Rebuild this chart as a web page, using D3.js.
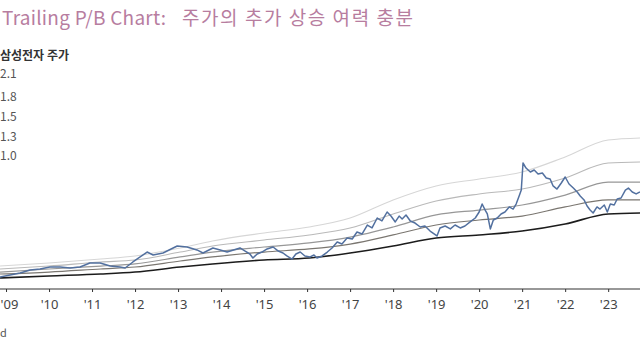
<!DOCTYPE html>
<html>
<head>
<meta charset="utf-8">
<script src="https://cdn.jsdelivr.net/npm/d3@7/dist/d3.min.js"></script>
<style>
  html, body { margin: 0; padding: 0; background: #fff; }
  svg { display: block; font-family: "Noto Sans CJK KR", "Noto Sans", sans-serif; }
</style>
</head>
<body>
<svg id="chart" width="640" height="360"></svg>
<script>
// ---- data (price in KRW thousand, time in decimal years) ----
const title = "Trailing P/B Chart:";
const titleKo = "주가의 추가 상승 여력 충분";
const seriesName = "삼성전자 주가";
const bandLabels = ["2.1", "1.8", "1.5", "1.3", "1.0"];
const yearTicks = [2009, 2010, 2011, 2012, 2013, 2014, 2015, 2016, 2017, 2018, 2019, 2020, 2021, 2022, 2023];
const tickLabels = ["'09", "'10", "'11", "'12", "'13", "'14", "'15", "'16", "'17", "'18", "'19", "'20", "'21", "'22", "'23"];
const sourceNote = "d";

const priceTime = [2008.86, 2009.33, 2009.56, 2009.79, 2010.02, 2010.26, 2010.49, 2010.72, 2010.95, 2011.19,
  2011.42, 2011.65, 2011.77, 2011.95, 2012.28, 2012.42, 2012.65, 2012.98, 2013.21, 2013.44,
  2013.58, 2013.81, 2013.98, 2014.14,
  2014.44, 2014.56, 2014.67, 2014.74, 2014.84, 2014.95, 2015.07, 2015.21, 2015.33, 2015.44,
  2015.53, 2015.65, 2015.74, 2015.84, 2015.95, 2016.07, 2016.16, 2016.23, 2016.35, 2016.47, 2016.58,
  2016.70, 2016.81, 2016.93, 2017.05, 2017.16, 2017.28, 2017.40, 2017.51, 2017.63, 2017.74,
  2017.86, 2017.95, 2018.05, 2018.14, 2018.21, 2018.30, 2018.40, 2018.51, 2018.63, 2018.74,
  2018.86, 2019.02, 2019.09, 2019.21, 2019.33, 2019.44, 2019.56, 2019.67, 2019.79, 2019.91,
  2020.00, 2020.07, 2020.14, 2020.19, 2020.26, 2020.33, 2020.42, 2020.51, 2020.60, 2020.70,
  2020.79, 2020.86, 2020.93, 2020.98, 2021.02, 2021.09, 2021.19, 2021.28, 2021.37, 2021.47,
  2021.56, 2021.65, 2021.72, 2021.81, 2021.91, 2022.00, 2022.09, 2022.19, 2022.28, 2022.35,
  2022.44, 2022.51, 2022.58, 2022.65, 2022.74, 2022.81, 2022.91, 2022.98, 2023.05, 2023.14,
  2023.21, 2023.30, 2023.40, 2023.47, 2023.56, 2023.65, 2023.74];
const priceValue = [8.6, 11.4, 13.6, 14.3, 15.7, 15.7, 15.0, 15.7, 18.6, 18.6,
  16.4, 15.7, 15.0, 19.3, 26.4, 24.3, 25.7, 30.7, 30.0, 27.9,
  25.7, 29.3, 27.9, 26.4,
  29.3, 27.1, 25.0, 22.1, 25.0, 26.4, 28.6, 30.0, 27.1, 25.7,
  23.6, 21.4, 25.0, 26.4, 23.6, 22.9, 24.3, 22.1, 23.6, 26.4, 29.3,
  33.6, 32.1, 36.4, 35.7, 40.7, 39.3, 45.7, 43.6, 50.7, 48.6,
  55.0, 52.1, 47.9, 52.1, 50.0, 52.9, 48.6, 47.1, 44.3, 45.0,
  41.4, 37.9, 43.6, 45.0, 42.9, 45.7, 43.6, 45.0, 47.9, 50.7,
  55.0, 60.7, 56.4, 53.6, 42.9, 49.3, 50.7, 53.6, 55.0, 58.6,
  57.1, 60.7, 66.4, 70.7, 90.0, 86.4, 83.6, 85.0, 82.1, 82.9,
  79.3, 78.6, 73.6, 71.4, 75.7, 80.0, 75.0, 72.1, 69.3, 66.4,
  63.6, 59.3, 56.4, 54.3, 58.6, 57.1, 60.0, 55.0, 60.7, 60.0,
  64.3, 65.0, 70.7, 72.1, 69.3, 67.9, 69.3];

const bandTime = [2008.86, 2010.0, 2011.2, 2012.0, 2013.05, 2013.8, 2015.0, 2016.05, 2017.0, 2018.0, 2019.0, 2020.0, 2021.0, 2022.0, 2023.0, 2023.75];
const band21 = [16.4, 18.6, 21.4, 23.6, 29.3, 34.3, 40.0, 44.3, 50.7, 63.6, 73.6, 78.6, 83.6, 94.3, 106.4, 107.9];
const band18 = [14.3, 16.4, 19.3, 20.7, 26.4, 30.7, 35.0, 38.6, 43.6, 53.6, 62.9, 67.9, 71.4, 79.3, 90.0, 90.7];
const band15 = [12.1, 14.3, 16.4, 17.9, 22.9, 26.4, 30.0, 32.9, 37.1, 44.3, 52.9, 56.4, 60.0, 67.1, 76.4, 76.4];
const band13 = [10.7, 12.1, 14.3, 15.7, 20.0, 22.9, 26.4, 28.6, 32.1, 38.6, 45.7, 49.3, 52.1, 58.6, 63.6, 63.6];
const band10 = [7.9, 9.3, 10.7, 12.1, 15.7, 17.9, 20.7, 22.1, 25.7, 30.7, 36.4, 38.6, 41.4, 46.4, 53.6, 54.3];

// ---- chart ----
const svg = d3.select("#chart");
const x = d3.scaleLinear().domain([2008.86, 2023.74]).range([0, 640]);
const y = d3.scaleLinear().domain([0, 100]).range([289, 149]);

// title
const t = svg.append("text").attr("y", 25).attr("font-size", 19).attr("fill", "#b77d9f");
t.append("tspan").attr("x", 2).attr("textLength", 164).attr("lengthAdjust", "spacing").text(title);
t.append("tspan").attr("x", 182).attr("textLength", 231).attr("lengthAdjust", "spacing").text(titleKo);

// legend-like labels
svg.append("text").attr("x", 0).attr("y", 60).attr("font-size", 12).attr("font-weight", 700)
  .attr("fill", "#333").text(seriesName);
const legendY = [78, 101, 121, 141, 160];
bandLabels.forEach((l, i) => {
  svg.append("text").attr("x", 0).attr("y", legendY[i]).attr("font-size", 12)
    .attr("fill", "#555").text(l);
});

// bands
const bands = [
  { v: band21, c: "#d6d6d6", w: 1.1 },
  { v: band18, c: "#b9b9b9", w: 1.1 },
  { v: band15, c: "#979797", w: 1.2 },
  { v: band13, c: "#7a7670", w: 1.2 },
  { v: band10, c: "#1c1c1c", w: 1.6 }
];
const bandLine = d3.line().curve(d3.curveMonotoneX)
  .x((d, i) => x(bandTime[i])).y(d => y(d));
bands.forEach(b => {
  svg.append("path").attr("d", bandLine(b.v)).attr("fill", "none")
    .attr("stroke", b.c).attr("stroke-width", b.w);
});

// price
const priceLine = d3.line().x((d, i) => x(priceTime[i])).y(d => y(d));
svg.append("path").attr("d", priceLine(priceValue)).attr("fill", "none")
  .attr("stroke", "#52709f").attr("stroke-width", 1.5).attr("stroke-linejoin", "round");

// x axis
const axis = d3.axisBottom(x).tickValues(yearTicks)
  .tickFormat((d, i) => tickLabels[i]).tickSize(3).tickSizeOuter(0).tickPadding(8);
const gx = svg.append("g").attr("transform", "translate(0,289)").call(axis);
gx.select(".domain").attr("stroke", "#333").attr("stroke-width", 1.2).attr("d", "M0,0H640");
gx.selectAll(".tick line").attr("stroke", "#333");
gx.selectAll(".tick text").attr("font-size", 13).attr("fill", "#444")
  .attr("font-family", "'Noto Sans', sans-serif");
// keep the first label inside the frame
gx.selectAll(".tick text").filter((d, i) => i === 0).attr("text-anchor", "start").attr("x", -6);

// source note (cropped in the reference)
svg.append("text").attr("x", 0).attr("y", 337).attr("font-size", 11).attr("fill", "#555").text(sourceNote);
</script>
</body>
</html>
